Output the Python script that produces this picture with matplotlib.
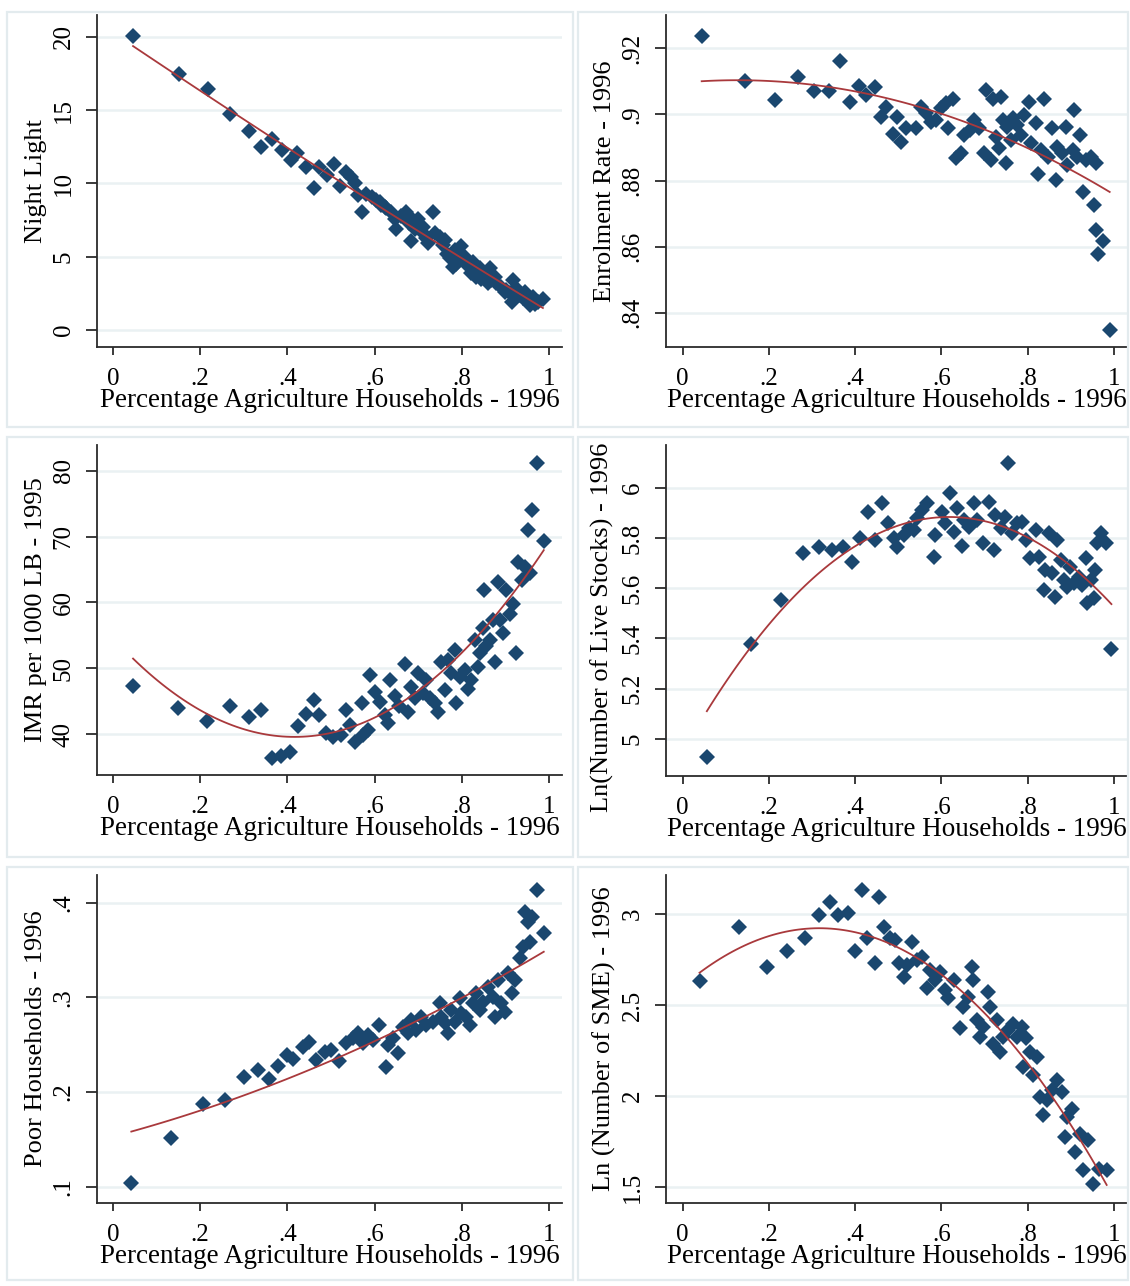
import numpy as np
import matplotlib
matplotlib.use("Agg")
import matplotlib.pyplot as plt
from matplotlib.patches import Rectangle

# ---- data (x = share of agricultural households, 1996) ----
night_x = [0.046, 0.151, 0.218, 0.269, 0.311, 0.340, 0.365, 0.388, 0.409, 0.422, 0.443, 0.460, 0.472,
           0.491, 0.507, 0.521, 0.535, 0.547, 0.554, 0.570, 0.562, 0.581, 0.593, 0.604, 0.615, 0.627,
           0.638, 0.650, 0.661, 0.673, 0.680, 0.684, 0.700, 0.711, 0.722, 0.734, 0.738, 0.749, 0.761,
           0.765, 0.772, 0.784, 0.787, 0.799, 0.807, 0.814, 0.822, 0.826, 0.833, 0.841, 0.852, 0.864,
           0.868, 0.879, 0.891, 0.902, 0.914, 0.917, 0.925, 0.933, 0.944, 0.956, 0.963, 0.975, 0.986,
           0.780, 0.795, 0.810, 0.845, 0.860, 0.876, 0.898, 0.910, 0.941, 0.968, 0.711, 0.692, 0.719,
           0.612, 0.623, 0.680, 0.646, 0.757, 0.776]
night_y = [20.05, 17.45, 16.4, 14.7, 13.6, 12.5, 13.0, 12.3, 11.6, 12.1, 11.1, 9.7, 11.1,
           10.6, 11.3, 9.8, 10.8, 10.45, 10.0, 8.07, 9.2, 9.3, 9.1, 8.86, 8.5, 8.3,
           8.07, 6.9, 7.8, 8.07, 7.27, 6.1, 7.6, 7.0, 5.9, 8.07, 6.6, 6.36, 6.14,
           5.2, 4.9, 5.45, 4.5, 5.7, 5.0, 4.4, 3.9, 4.66, 3.6, 4.2, 3.9, 4.2,
           3.4, 3.2, 2.95, 2.7, 1.9, 3.4, 2.84, 2.4, 2.6, 1.7, 2.27, 1.9, 2.1,
           4.3, 5.1, 4.5, 3.5, 3.2, 3.6, 2.6, 2.5, 2.2, 1.8, 6.6, 6.9, 6.3,
           8.7, 8.4, 7.8, 7.6, 5.8, 5.1]

enrol_x = [0.044, 0.144, 0.214, 0.268, 0.304, 0.339, 0.364, 0.387, 0.409, 0.426, 0.445, 0.460, 0.472,
           0.487, 0.496, 0.506, 0.518, 0.541, 0.553, 0.564, 0.576, 0.588, 0.599, 0.611, 0.626, 0.615,
           0.633, 0.645, 0.653, 0.665, 0.676, 0.688, 0.699, 0.703, 0.715, 0.719, 0.726, 0.734, 0.738,
           0.742, 0.749, 0.753, 0.761, 0.765, 0.776, 0.784, 0.792, 0.803, 0.807, 0.819, 0.823, 0.830,
           0.838, 0.846, 0.857, 0.865, 0.869, 0.880, 0.888, 0.892, 0.904, 0.907, 0.915, 0.922, 0.927,
           0.935, 0.946, 0.954, 0.958, 0.958, 0.964, 0.975, 0.990]
enrol_y = [0.9237, 0.9101, 0.9045, 0.9114, 0.9072, 0.9072, 0.9162, 0.9038, 0.9086, 0.9059, 0.9082, 0.8991, 0.9023,
           0.8942, 0.8993, 0.8917, 0.8958, 0.8958, 0.9023, 0.9003, 0.8978, 0.8983, 0.9018, 0.9033, 0.9048, 0.8958,
           0.8867, 0.8882, 0.8937, 0.8953, 0.8983, 0.8958, 0.8882, 0.9074, 0.8862, 0.9048, 0.8932, 0.8897, 0.9054,
           0.8983, 0.8852, 0.8963, 0.8922, 0.8988, 0.8968, 0.8937, 0.8998, 0.9038, 0.8912, 0.8973, 0.8821, 0.8892,
           0.9048, 0.8872, 0.8958, 0.8801, 0.8902, 0.8882, 0.8963, 0.8847, 0.8892, 0.9013, 0.8872, 0.8937, 0.8766,
           0.8862, 0.8872, 0.8725, 0.8852, 0.8650, 0.8579, 0.8617, 0.8349]

imr_x = [0.046, 0.149, 0.216, 0.269, 0.312, 0.340, 0.365, 0.386, 0.405, 0.424, 0.443, 0.460, 0.472,
         0.489, 0.505, 0.524, 0.534, 0.543, 0.554, 0.570, 0.573, 0.585, 0.589, 0.600, 0.612, 0.623,
         0.631, 0.635, 0.646, 0.657, 0.669, 0.677, 0.684, 0.692, 0.700, 0.711, 0.719, 0.726, 0.738,
         0.745, 0.753, 0.761, 0.769, 0.776, 0.784, 0.787, 0.795, 0.807, 0.814, 0.822, 0.830, 0.837,
         0.841, 0.849, 0.852, 0.856, 0.864, 0.872, 0.875, 0.883, 0.887, 0.894, 0.902, 0.910, 0.917,
         0.925, 0.929, 0.937, 0.944, 0.952, 0.956, 0.962, 0.972, 0.988]
imr_y = [47.3, 44.0, 41.9, 44.2, 42.6, 43.7, 36.4, 36.6, 37.3, 41.2, 43.0, 45.1, 42.9,
         40.1, 39.6, 39.8, 43.7, 41.4, 38.8, 44.7, 39.8, 40.6, 49.0, 46.4, 44.9, 42.9,
         41.6, 48.2, 45.7, 44.2, 50.7, 43.4, 47.2, 45.4, 49.2, 46.2, 48.2, 45.4, 44.7,
         43.4, 51.0, 46.7, 51.2, 49.2, 52.8, 44.7, 48.7, 49.7, 46.9, 48.2, 54.3, 50.2,
         52.3, 56.1, 61.9, 53.3, 54.3, 57.3, 51.0, 63.1, 57.3, 55.3, 61.9, 58.3, 59.8,
         52.3, 66.2, 63.4, 65.4, 71.0, 64.4, 74.0, 81.2, 69.3]

stock_x = [0.056, 0.158, 0.228, 0.279, 0.317, 0.346, 0.372, 0.392, 0.410, 0.429, 0.447, 0.462, 0.477,
           0.489, 0.498, 0.512, 0.524, 0.536, 0.543, 0.555, 0.567, 0.582, 0.586, 0.601, 0.609, 0.619,
           0.628, 0.636, 0.648, 0.652, 0.663, 0.675, 0.683, 0.697, 0.710, 0.721, 0.725, 0.737, 0.748,
           0.755, 0.764, 0.776, 0.787, 0.795, 0.806, 0.818, 0.826, 0.837, 0.841, 0.849, 0.857, 0.864,
           0.868, 0.876, 0.884, 0.892, 0.899, 0.907, 0.918, 0.926, 0.934, 0.938, 0.946, 0.954, 0.957,
           0.961, 0.969, 0.981, 0.994]
stock_y = [4.927, 5.378, 5.553, 5.741, 5.763, 5.752, 5.763, 5.706, 5.798, 5.905, 5.792, 5.940, 5.861,
           5.798, 5.765, 5.812, 5.838, 5.832, 5.878, 5.911, 5.938, 5.725, 5.812, 5.905, 5.858, 5.977,
           5.825, 5.918, 5.768, 5.871, 5.845, 5.938, 5.871, 5.778, 5.944, 5.752, 5.891, 5.838, 5.885,
           6.099, 5.818, 5.858, 5.865, 5.792, 5.719, 5.832, 5.725, 5.593, 5.672, 5.818, 5.659, 5.566,
           5.792, 5.712, 5.633, 5.606, 5.686, 5.619, 5.646, 5.613, 5.719, 5.540, 5.633, 5.560, 5.672,
           5.779, 5.818, 5.779, 5.357]

poor_x = [0.042, 0.134, 0.206, 0.258, 0.300, 0.333, 0.358, 0.378, 0.398, 0.413, 0.436, 0.450, 0.466,
          0.486, 0.501, 0.518, 0.535, 0.550, 0.562, 0.573, 0.585, 0.596, 0.610, 0.625, 0.631, 0.642,
          0.654, 0.665, 0.677, 0.684, 0.696, 0.707, 0.719, 0.734, 0.749, 0.753, 0.761, 0.768, 0.776,
          0.784, 0.795, 0.799, 0.810, 0.818, 0.826, 0.833, 0.841, 0.849, 0.860, 0.872, 0.875, 0.883,
          0.890, 0.898, 0.906, 0.914, 0.921, 0.933, 0.940, 0.944, 0.956, 0.952, 0.960, 0.972, 0.988]
poor_y = [0.1035, 0.151, 0.187, 0.1915, 0.2155, 0.223, 0.2134, 0.2275, 0.239, 0.2345, 0.248, 0.253, 0.2338,
          0.2426, 0.2444, 0.2331, 0.2514, 0.2567, 0.262, 0.2514, 0.2602, 0.255, 0.2708, 0.2268, 0.2496, 0.2567,
          0.2408, 0.269, 0.262, 0.2761, 0.2655, 0.2796, 0.2708, 0.2743, 0.2944, 0.2796, 0.2725, 0.262, 0.2866,
          0.2743, 0.2989, 0.2831, 0.2796, 0.2708, 0.2937, 0.3042, 0.2866, 0.2954, 0.3113, 0.3007, 0.2796, 0.3183,
          0.2937, 0.2849, 0.3254, 0.3042, 0.3183, 0.3412, 0.3535, 0.3905, 0.3588, 0.380, 0.3852, 0.4134, 0.3683]

sme_x = [0.039, 0.131, 0.195, 0.241, 0.284, 0.315, 0.342, 0.361, 0.383, 0.400, 0.415, 0.428, 0.446,
         0.456, 0.467, 0.481, 0.492, 0.502, 0.512, 0.519, 0.531, 0.543, 0.554, 0.566, 0.573, 0.585,
         0.597, 0.608, 0.616, 0.628, 0.643, 0.651, 0.662, 0.670, 0.674, 0.682, 0.689, 0.697, 0.707,
         0.713, 0.720, 0.728, 0.736, 0.743, 0.755, 0.766, 0.774, 0.786, 0.790, 0.797, 0.805, 0.813,
         0.821, 0.828, 0.836, 0.844, 0.856, 0.867, 0.879, 0.886, 0.890, 0.902, 0.910, 0.921, 0.927,
         0.940, 0.952, 0.966, 0.983]
sme_y = [2.632, 2.930, 2.707, 2.797, 2.866, 2.995, 3.068, 2.995, 3.004, 2.797, 3.132, 2.866, 2.733,
         3.095, 2.930, 2.866, 2.857, 2.733, 2.656, 2.720, 2.848, 2.747, 2.766, 2.592, 2.692, 2.637,
         2.683, 2.582, 2.537, 2.637, 2.372, 2.491, 2.546, 2.711, 2.637, 2.418, 2.326, 2.381, 2.573,
         2.491, 2.289, 2.418, 2.244, 2.326, 2.363, 2.399, 2.326, 2.381, 2.161, 2.317, 2.244, 2.115,
         2.216, 1.996, 1.896, 1.978, 2.033, 2.088, 2.024, 1.777, 1.886, 1.932, 1.694, 1.795, 1.593,
         1.758, 1.520, 1.603, 1.593]

xticks = [0, 0.2, 0.4, 0.6, 0.8, 1.0]
xtick_labels = ["0", ".2", ".4", ".6", ".8", "1"]
xlabel = "Percentage Agriculture Households - 1996"

W, H = 1130, 1286
NAVY = "#1a476f"
FIT = "#a9393c"
GRID = "#eaf1f3"
FRAME = "#e3ebee"
AXC = "#2b2b2b"

plt.rcParams["font.family"] = ["Liberation Serif", "DejaVu Serif"]

# panel layout in pixels: spine left, axes top, axes right, spine bottom,
# x pixel of 0 and 1, y pixel of two reference ticks
panels = [
    dict(x=night_x, y=night_y, ylab="Night Light",
         yt=[0, 5, 10, 15, 20], ytl=["0", "5", "10", "15", "20"],
         box=(97, 15, 562, 347), xpx=(113, 549), ypx=((36.7, 20), (330, 0))),
    dict(x=enrol_x, y=enrol_y, ylab="Enrolment Rate - 1996",
         yt=[0.84, 0.86, 0.88, 0.90, 0.92], ytl=[".84", ".86", ".88", ".9", ".92"],
         box=(666, 15, 1128, 347), xpx=(682.7, 1114), ypx=((48.3, 0.92), (312.7, 0.84))),
    dict(x=imr_x, y=imr_y, ylab="IMR per 1000 LB - 1995",
         yt=[40, 50, 60, 70, 80], ytl=["40", "50", "60", "70", "80"],
         box=(97, 445, 562, 775), xpx=(113, 549), ypx=((470.7, 80), (734, 40))),
    dict(x=stock_x, y=stock_y, ylab="Ln(Number of Live Stocks) - 1996",
         yt=[5, 5.2, 5.4, 5.6, 5.8, 6], ytl=["5", "5.2", "5.4", "5.6", "5.8", "6"],
         box=(666, 445, 1128, 776), xpx=(682.7, 1114), ypx=((487.7, 6), (739, 5)),
         ylab_xy=(-0.112, 0.45)),
    dict(x=poor_x, y=poor_y, ylab="Poor Households - 1996",
         yt=[0.1, 0.2, 0.3, 0.4], ytl=[".1", ".2", ".3", ".4"],
         box=(97, 875, 562, 1203), xpx=(113, 549), ypx=((902.7, 0.4), (1186.7, 0.1))),
    dict(x=sme_x, y=sme_y, ylab="Ln (Number of SME) - 1996",
         yt=[1.5, 2, 2.5, 3], ytl=["1.5", "2", "2.5", "3"],
         box=(666, 875, 1128, 1203), xpx=(682.7, 1114), ypx=((914, 3), (1187.3, 1.5))),
]

# light frames around each graph, as in the Stata combined graph
frames = [(7, 12, 573, 427), (578, 12, 1128, 427),
          (7, 437, 573, 857), (578, 437, 1128, 857),
          (7, 867, 573, 1280), (578, 867, 1128, 1280)]


def lin_lim(p_a, v_a, p_b, v_b, p_lo, p_hi):
    k = (v_b - v_a) / (p_b - p_a)
    return v_a + (p_lo - p_a) * k, v_a + (p_hi - p_a) * k


fig = plt.figure(figsize=(W / 100, H / 100), dpi=100)
fig.patch.set_facecolor("white")

for (l, t, r, b) in frames:
    fig.patches.append(Rectangle((l / W, 1 - b / H), (r - l) / W, (b - t) / H,
                                 transform=fig.transFigure, fill=False,
                                 edgecolor=FRAME, linewidth=1.6, zorder=0))

for p in panels:
    l, t, r, b = p["box"]
    ax = fig.add_axes([l / W, 1 - b / H, (r - l) / W, (b - t) / H])
    ax.set_facecolor("white")

    x = np.array(p["x"])
    y = np.array(p["y"])

    # quadratic fit through the points (qfit)
    coef = np.polyfit(x, y, 2)
    xf = np.linspace(x.min(), x.max(), 100)
    ax.plot(xf, np.polyval(coef, xf), color=FIT, lw=1.3, zorder=3)
    ax.plot(x, y, linestyle="none", marker="D", ms=8.5, color=NAVY,
            markeredgewidth=0, zorder=2)

    x0, x1 = p["xpx"]
    ax.set_xlim(lin_lim(x0, 0, x1, 1, l, r))
    (pa, va), (pb, vb) = p["ypx"]
    ax.set_ylim(lin_lim(pa, va, pb, vb, b, t))

    ax.set_xticks(xticks)
    ax.set_xticklabels(xtick_labels)
    ax.set_yticks(p["yt"])
    ax.set_yticklabels(p["ytl"], rotation=90, va="center")
    for yv in p["yt"]:
        ax.axhline(yv, color=GRID, lw=1.8, zorder=0)

    for s in ["top", "right"]:
        ax.spines[s].set_visible(False)
    for s in ["left", "bottom"]:
        ax.spines[s].set_color(AXC)
        ax.spines[s].set_linewidth(1.3)
    ax.tick_params(axis="x", length=6, width=1.3, color=AXC, labelsize=18, pad=9)
    ax.tick_params(axis="y", length=8, width=1.3, color=AXC, labelsize=18, pad=8)
    ax.set_xlabel(xlabel, fontsize=19.5, labelpad=-1)
    ax.set_ylabel(p["ylab"], fontsize=19, labelpad=4)
    if "ylab_xy" in p:
        # long title: sits a bit lower so it stays inside its own frame
        ax.yaxis.set_label_coords(*p["ylab_xy"])

fig.savefig("out.png", dpi=100, facecolor="white")
